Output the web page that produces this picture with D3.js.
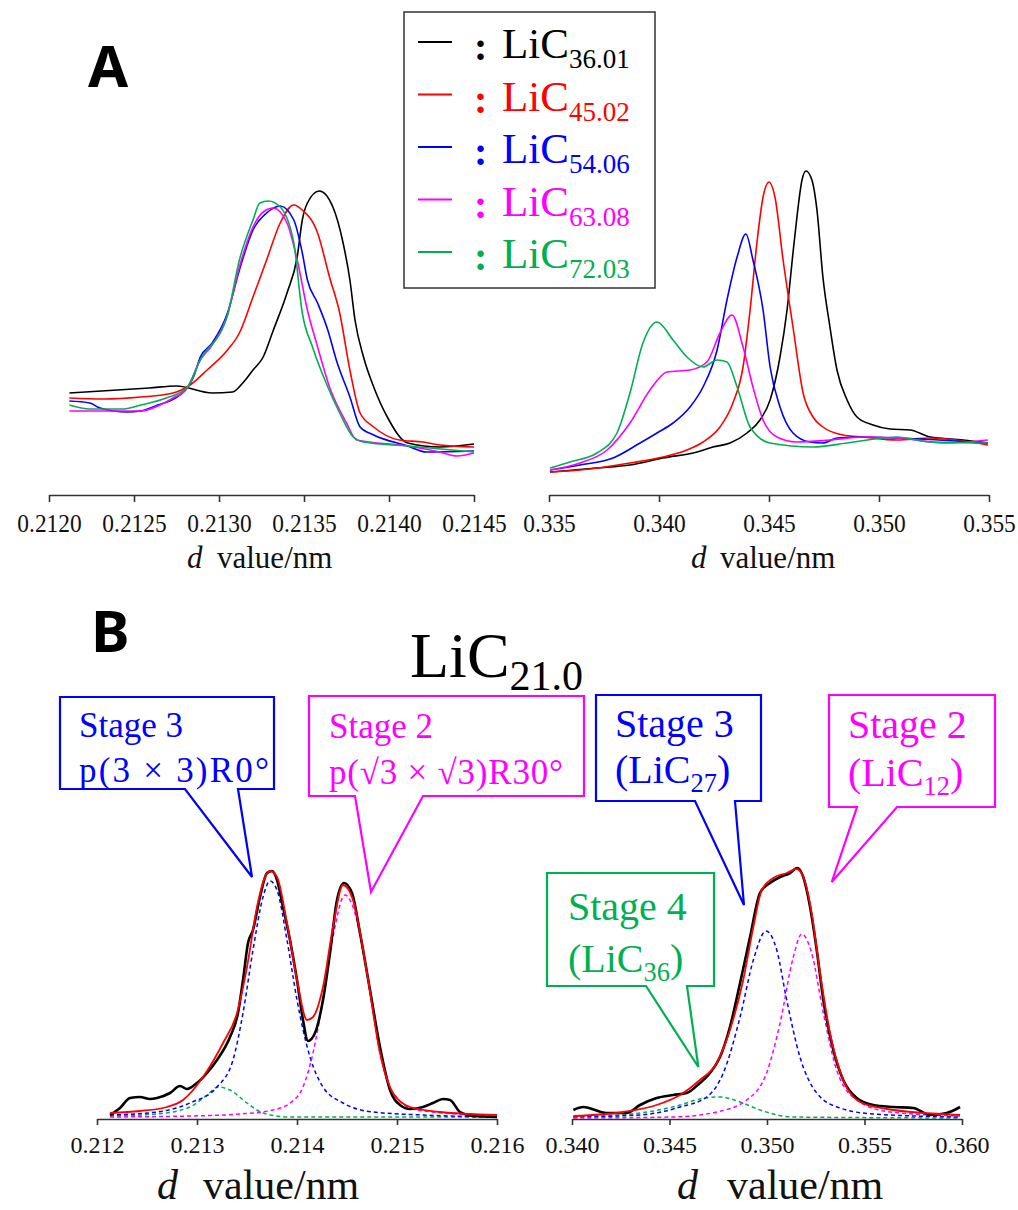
<!DOCTYPE html>
<html>
<head>
<meta charset="utf-8">
<script src="https://cdn.jsdelivr.net/npm/d3@7"></script>
<style>
body{margin:0;background:#fff;}
svg{display:block;}
.serif{font-family:"Liberation Serif","Times New Roman",serif;}
.bold{font-family:"Noto Sans","DejaVu Sans",sans-serif;font-weight:bold;}
</style>
</head>
<body>
<div id="chart"></div>
<script>
// series names + colours (panel A legend)
var seriesNames = ["36.01", "45.02", "54.06", "63.08", "72.03"];
var seriesColors = ["#000000", "#ff0000", "#0000ff", "#ff00ff", "#00b050"];

// tick values
var aLeftTicks = [0.2120, 0.2125, 0.2130, 0.2135, 0.2140, 0.2145];
var aRightTicks = [0.335, 0.340, 0.345, 0.350, 0.355];
var bLeftTicks = [0.212, 0.213, 0.214, 0.215, 0.216];
var bRightTicks = [0.340, 0.345, 0.350, 0.355, 0.360];

// panel A, 0.2120-0.2145 nm region  [d value, intensity]
var aLeft36 = [[0.21212,77],[0.21259,82],[0.21275,84],[0.21296,77],[0.21308,78],[0.21314,87],[0.21320,100],[0.21326,113],[0.21332,140],[0.21340,177],[0.21346,213],[0.21349,250],[0.21352,267],[0.21359,279],[0.21367,263],[0.21373,227],[0.21377,190],[0.21380,150],[0.21385,113],[0.21391,83],[0.21399,53],[0.21411,27],[0.21430,23],[0.21450,26]];
var aLeft45 = [[0.21212,72],[0.21232,71],[0.21254,73],[0.21273,77],[0.21283,85],[0.21293,100],[0.21305,120],[0.21312,137],[0.21320,173],[0.21328,210],[0.21336,247],[0.21344,265],[0.21349,260],[0.21358,237],[0.21365,193],[0.21371,157],[0.21377,100],[0.21383,57],[0.21391,43],[0.21406,30],[0.21420,28],[0.21430,25],[0.21450,23]];
var aLeft54 = [[0.21212,69],[0.21224,67],[0.21230,62],[0.21246,58],[0.21254,59],[0.21264,65],[0.21277,75],[0.21285,93],[0.21289,113],[0.21296,127],[0.21305,157],[0.21312,200],[0.21320,240],[0.21328,257],[0.21336,264],[0.21344,250],[0.21349,217],[0.21352,190],[0.21358,167],[0.21364,140],[0.21369,110],[0.21377,73],[0.21383,43],[0.21391,35],[0.21411,24],[0.21422,18],[0.21450,19]];
var aLeft63 = [[0.21212,59],[0.21234,59],[0.21254,59],[0.21264,64],[0.21273,72],[0.21281,81],[0.21289,110],[0.21296,125],[0.21305,155],[0.21312,203],[0.21320,243],[0.21326,258],[0.21332,262],[0.21340,247],[0.21346,210],[0.21352,160],[0.21358,123],[0.21365,83],[0.21375,47],[0.21381,30],[0.21411,24],[0.21430,18],[0.21440,14],[0.21450,17]];
var aLeft72 = [[0.21212,65],[0.21224,61],[0.21244,61],[0.21254,65],[0.21269,72],[0.21281,82],[0.21289,110],[0.21305,155],[0.21312,210],[0.21320,250],[0.21324,267],[0.21329,269],[0.21336,263],[0.21344,227],[0.21349,157],[0.21355,123],[0.21364,83],[0.21371,57],[0.21379,33],[0.21385,28],[0.21411,24],[0.21450,18]];

// panel A, 0.335-0.355 nm region
var aRight36 = [[0.33505,3],[0.33717,7],[0.33868,10],[0.34018,17],[0.34173,23],[0.34245,28],[0.34323,32],[0.34400,42],[0.34459,55],[0.34505,75],[0.34550,118],[0.34582,165],[0.34609,222],[0.34627,258],[0.34650,295],[0.34668,304],[0.34695,295],[0.34718,265],[0.34745,198],[0.34777,148],[0.34809,105],[0.34855,75],[0.34900,58],[0.34973,50],[0.35050,46],[0.35141,45],[0.35232,38],[0.35382,35],[0.35495,32]];
var aRight45 = [[0.33505,3],[0.33641,5],[0.33868,12],[0.34018,18],[0.34127,25],[0.34200,33],[0.34277,48],[0.34336,72],[0.34382,108],[0.34414,165],[0.34445,232],[0.34473,278],[0.34500,293],[0.34527,278],[0.34564,215],[0.34609,148],[0.34655,82],[0.34700,58],[0.34745,48],[0.34836,40],[0.34927,38],[0.35082,35],[0.35232,37],[0.35495,30]];
var aRight54 = [[0.33505,5],[0.33641,10],[0.33791,17],[0.33914,32],[0.33991,42],[0.34064,52],[0.34141,68],[0.34200,88],[0.34264,125],[0.34309,175],[0.34355,218],[0.34395,241],[0.34427,215],[0.34473,165],[0.34505,108],[0.34550,68],[0.34609,42],[0.34686,33],[0.34745,32],[0.34809,37],[0.34927,38],[0.35082,37],[0.35495,32]];
var aRight63 = [[0.33505,5],[0.33641,12],[0.33764,25],[0.33868,52],[0.33959,85],[0.34036,103],[0.34141,105],[0.34218,113],[0.34277,142],[0.34332,160],[0.34382,128],[0.34427,88],[0.34473,55],[0.34536,38],[0.34627,33],[0.34777,35],[0.34927,38],[0.35082,37],[0.35309,32],[0.35495,35]];
var aRight72 = [[0.33505,7],[0.33595,13],[0.33718,22],[0.33809,42],[0.33868,82],[0.33927,132],[0.33991,153],[0.34064,135],[0.34127,118],[0.34200,108],[0.34264,115],[0.34309,113],[0.34355,88],[0.34414,48],[0.34505,32],[0.34700,28],[0.34855,32],[0.35082,38],[0.35232,33],[0.35495,32]];

// panel B, LiC21.0: measured, fit, and the three fitted components
var bLeftObs = [[0.21213,3],[0.21223,10],[0.21233,20],[0.21243,21],[0.21253,19],[0.21260,20],[0.21273,25],[0.21283,32],[0.21290,29],[0.21300,35],[0.21310,45],[0.21320,58],[0.21333,81],[0.21341,105],[0.21346,138],[0.21351,175],[0.21356,188],[0.21363,221],[0.21370,245],[0.21375,247],[0.21380,238],[0.21386,211],[0.21393,178],[0.21400,138],[0.21406,98],[0.21411,77],[0.21418,85],[0.21426,118],[0.21433,165],[0.21440,218],[0.21447,235],[0.21455,225],[0.21463,185],[0.21473,128],[0.21483,71],[0.21493,28],[0.21503,13],[0.21513,9],[0.21526,11],[0.21536,15],[0.21546,19],[0.21553,18],[0.21563,6],[0.21576,2],[0.21600,1]];
var bLeftFit = [[0.21213,5],[0.21243,7],[0.21270,11],[0.21286,18],[0.21306,41],[0.21326,75],[0.21340,105],[0.21350,151],[0.21360,211],[0.21368,241],[0.21373,247],[0.21380,241],[0.21390,195],[0.21400,138],[0.21410,98],[0.21416,101],[0.21426,131],[0.21436,191],[0.21446,233],[0.21456,218],[0.21470,145],[0.21483,65],[0.21496,25],[0.21513,11],[0.21543,6],[0.21600,3]];
var bLeftStage3 = [[0.21213,3],[0.21260,6],[0.21293,15],[0.21320,31],[0.21336,58],[0.21346,105],[0.21356,168],[0.21366,221],[0.21373,237],[0.21380,228],[0.21390,178],[0.21400,118],[0.21413,61],[0.21426,31],[0.21446,15],[0.21476,6],[0.21526,3],[0.21600,1]];
var bLeftStage2 = [[0.21213,1],[0.21293,2],[0.21343,4],[0.21376,8],[0.21393,15],[0.21406,31],[0.21416,65],[0.21426,118],[0.21436,181],[0.21448,223],[0.21456,211],[0.21470,145],[0.21483,65],[0.21496,25],[0.21520,8],[0.21600,2]];
var bLeftStage4 = [[0.21213,2],[0.21260,4],[0.21293,11],[0.21310,23],[0.21321,31],[0.21333,28],[0.21350,15],[0.21366,5],[0.21393,1],[0.21600,1]];

var bRightObs = [[0.34007,8],[0.34058,11],[0.34178,5],[0.34281,5],[0.34349,13],[0.34434,20],[0.34519,23],[0.34588,25],[0.34656,35],[0.34708,45],[0.34759,61],[0.34810,91],[0.34862,135],[0.34913,181],[0.34964,225],[0.35015,235],[0.35067,241],[0.35118,245],[0.35155,250],[0.35186,241],[0.35221,211],[0.35255,168],[0.35289,118],[0.35340,68],[0.35391,38],[0.35460,20],[0.35545,13],[0.35648,11],[0.35750,10],[0.35836,3],[0.35922,5],[0.35990,11]];
var bRightFit = [[0.34007,2],[0.34263,6],[0.34434,13],[0.34554,23],[0.34656,38],[0.34742,55],[0.34810,88],[0.34878,138],[0.34930,191],[0.34973,228],[0.35032,240],[0.35101,245],[0.35152,249],[0.35186,241],[0.35229,205],[0.35272,145],[0.35323,85],[0.35391,38],[0.35477,16],[0.35614,9],[0.35990,3]];
var bRightStage3 = [[0.34007,1],[0.34349,3],[0.34554,11],[0.34691,21],[0.34776,45],[0.34862,101],[0.34930,158],[0.34995,187],[0.35050,168],[0.35101,118],[0.35169,61],[0.35255,25],[0.35374,10],[0.35545,4],[0.35990,1]];
var bRightStage2 = [[0.34007,0],[0.34519,1],[0.34742,6],[0.34896,18],[0.34998,45],[0.35067,95],[0.35135,161],[0.35178,184],[0.35229,165],[0.35289,105],[0.35357,48],[0.35460,18],[0.35631,6],[0.35990,2]];
var bRightStage4 = [[0.34007,1],[0.34349,5],[0.34554,13],[0.34656,19],[0.34759,21],[0.34862,16],[0.34964,8],[0.35135,1],[0.35990,0]];

var W = 1018, H = 1210;

var svg = d3.select("#chart").append("svg")
    .attr("width", W)
    .attr("height", H);

// helper functions
function makePanel(xDomain, xRange, yDomain, yRange){
    var x = d3.scaleLinear().domain(xDomain).range(xRange);
    var y = d3.scaleLinear().domain(yDomain).range(yRange);
    return {'x':x, 'y':y};
}

function drawCurve(p, data, color, width, dash){
    var line = d3.line()
        .x(function(d){ return p.x(d[0]) })
        .y(function(d){ return p.y(d[1]) })
        .curve(d3.curveMonotoneX);
    var path = svg.append("path").datum(data)
        .attr("d", line)
        .attr("fill", "none")
        .attr("stroke", color)
        .attr("stroke-width", width)
        .attr("stroke-linejoin", "round");
    if (dash) path.attr("stroke-dasharray", dash);
}

function drawAxis(p, axisY, ticks, fmt, fontSize, tickLen, pad, squeeze){
    var axis = d3.axisBottom(p.x)
        .tickValues(ticks)
        .tickFormat(d3.format(fmt))
        .tickSize(tickLen)
        .tickSizeOuter(0)
        .tickPadding(pad);
    var g = svg.append("g")
        .attr("transform", "translate(0," + axisY + ")")
        .call(axis);
    g.select(".domain").attr("stroke", "#333").attr("stroke-width", 1.6);
    g.selectAll(".tick line").attr("stroke", "#333").attr("stroke-width", 1.6);
    var txt = g.selectAll(".tick text")
        .attr("class", "serif")
        .attr("font-size", fontSize)
        .attr("fill", "#111");
    // the original tick font is a bit condensed
    if (squeeze) txt.attr("transform", "scale(" + squeeze + ",1)");
}

function axisLabel(dx, vx, y, size){
    var t = svg.append("text").attr("class", "serif")
        .attr("y", y).attr("font-size", size).attr("fill", "#111");
    t.append("tspan").attr("x", dx).attr("font-style", "italic").text("d");
    t.append("tspan").attr("x", vx).text("value/nm");
}

// main text + subscript (+ optional tail)
function subText(x, y, main, sub, size, subSize, shift, color, tail){
    var t = svg.append("text").attr("class", "serif")
        .attr("x", x).attr("y", y)
        .attr("font-size", size).attr("fill", color);
    t.append("tspan").text(main);
    t.append("tspan").attr("font-size", subSize).attr("dy", shift).text(sub);
    if (tail) t.append("tspan").attr("dy", -shift).text(tail);
    return t;
}

function drawCallout(c, p){
    var b = c.box;
    var tipX = p.x(c.tip[0]), tipY = p.y(c.tip[1]);
    var pts = [[b[0], b[1]], [b[2], b[1]], [b[2], b[3]], [c.gap[1], b[3]],
               [tipX, tipY], [c.gap[0], b[3]], [b[0], b[3]]];
    svg.append("path")
        .attr("d", "M" + pts.join("L") + "Z")
        .attr("fill", "#fff")
        .attr("stroke", c.color)
        .attr("stroke-width", 2.2)
        .attr("stroke-linejoin", "miter");
    c.lines.forEach(function(l, i){
        var t;
        if (l.length > 1) {
            t = subText(c.tx, c.ty[i], l[0], l[1], c.size, c.size * 0.66, 9, c.color, l[2]);
        } else {
            t = svg.append("text").attr("class", "serif")
                .attr("x", c.tx).attr("y", c.ty[i])
                .attr("font-size", c.size).attr("fill", c.color)
                .text(l[0]);
        }
        if (c.tlen && c.tlen[i]) t.attr("textLength", c.tlen[i]).attr("lengthAdjust", "spacing");
    });
}

// ---------- panel A ----------
var pAL = makePanel([0.2120, 0.2145], [49, 474], [0, 300], [470, 170]);
var pAR = makePanel([0.335, 0.355], [549, 989], [0, 320], [475, 155]);

var aLeftSeries = [aLeft36, aLeft45, aLeft54, aLeft63, aLeft72];
var aRightSeries = [aRight36, aRight45, aRight54, aRight63, aRight72];

aLeftSeries.forEach(function(s, i){ drawCurve(pAL, s, seriesColors[i], 1.6); });
aRightSeries.forEach(function(s, i){ drawCurve(pAR, s, seriesColors[i], 1.6); });

drawAxis(pAL, 495, aLeftTicks, ".4f", 26, 7, 12, 0.9);
drawAxis(pAR, 495, aRightTicks, ".3f", 26, 7, 12, 0.9);
axisLabel(187, 217, 568, 31);
axisLabel(691, 720, 568, 31);

svg.append("text").attr("class", "bold")
    .attr("x", 88).attr("y", 87)
    .attr("font-size", 58).text("A");

// legend
svg.append("rect")
    .attr("x", 404).attr("y", 12)
    .attr("width", 251).attr("height", 276)
    .attr("fill", "#fff").attr("stroke", "#333").attr("stroke-width", 1.5);

seriesNames.forEach(function(name, i){
    var ry = 42 + i * 52.5;
    svg.append("line")
        .attr("x1", 418).attr("x2", 452)
        .attr("y1", ry).attr("y2", ry)
        .attr("stroke", seriesColors[i]).attr("stroke-width", 2);
    svg.append("text").attr("class", "serif")
        .attr("x", 474).attr("y", ry + 18)
        .attr("font-size", 40).attr("font-weight", "bold")
        .attr("fill", seriesColors[i]).text(":");
    subText(502, ry + 16, "LiC", name, 43, 27, 10, seriesColors[i]);
});

// ---------- panel B ----------
var pBL = makePanel([0.212, 0.216], [97, 497], [0, 260], [1118, 858]);
var pBR = makePanel([0.340, 0.360], [572, 962], [0, 260], [1118, 858]);

drawCurve(pBL, bLeftStage4, "#00b050", 1.5, "4,3");
drawCurve(pBL, bLeftStage3, "#0000ff", 1.5, "4,3");
drawCurve(pBL, bLeftStage2, "#ff00ff", 1.5, "4,3");
drawCurve(pBL, bLeftObs, "#000000", 2.6);
drawCurve(pBL, bLeftFit, "#ff0000", 1.8);

drawCurve(pBR, bRightStage4, "#00b050", 1.5, "4,3");
drawCurve(pBR, bRightStage3, "#0000ff", 1.5, "4,3");
drawCurve(pBR, bRightStage2, "#ff00ff", 1.5, "4,3");
drawCurve(pBR, bRightObs, "#000000", 2.6);
drawCurve(pBR, bRightFit, "#ff0000", 1.8);

drawAxis(pBL, 1119, bLeftTicks, ".3f", 24, 6, 11);
drawAxis(pBR, 1119, bRightTicks, ".3f", 24, 6, 11);
axisLabel(157, 203, 1199, 42);
axisLabel(677, 727, 1199, 42);

svg.append("text").attr("class", "bold")
    .attr("x", 91).attr("y", 652)
    .attr("font-size", 58).text("B");

subText(410, 677, "LiC", "21.0", 64, 42, 13, "#000");

// callout boxes (box in px, tip in data units of its panel)
var callouts = [
    {color:"#0000ff", box:[60, 697, 274, 789], gap:[185, 238], tip:[0.21355, 241], p:pBL,
     size:35, tx:79, ty:[737, 782], lines:[["Stage 3"], ["p(3 × 3)R0°"]], tlen:[0, 190]},
    {color:"#ff00ff", box:[309, 696, 584, 796], gap:[355, 423], tip:[0.21474, 226], p:pBL,
     size:35, tx:329, ty:[738, 784], lines:[["Stage 2"], ["p(√3 × √3)R30°"]], tlen:[0, 234]},
    {color:"#0000ff", box:[596, 695, 761, 801], gap:[695, 735], tip:[0.34882, 213], p:pBR,
     size:40, tx:615, ty:[737, 783], lines:[["Stage 3"], ["(LiC", "27", ")"]]},
    {color:"#ff00ff", box:[829, 695, 995, 807], gap:[857, 897], tip:[0.35332, 236], p:pBR,
     size:40, tx:848, ty:[738, 786], lines:[["Stage 2"], ["(LiC", "12", ")"]]},
    {color:"#00b050", box:[547, 873, 714, 986], gap:[646, 687], tip:[0.34648, 51], p:pBR,
     size:40, tx:568, ty:[920, 972], lines:[["Stage 4"], ["(LiC", "36", ")"]]}
];

callouts.forEach(function(c){ drawCallout(c, c.p); });
</script>
</body>
</html>
